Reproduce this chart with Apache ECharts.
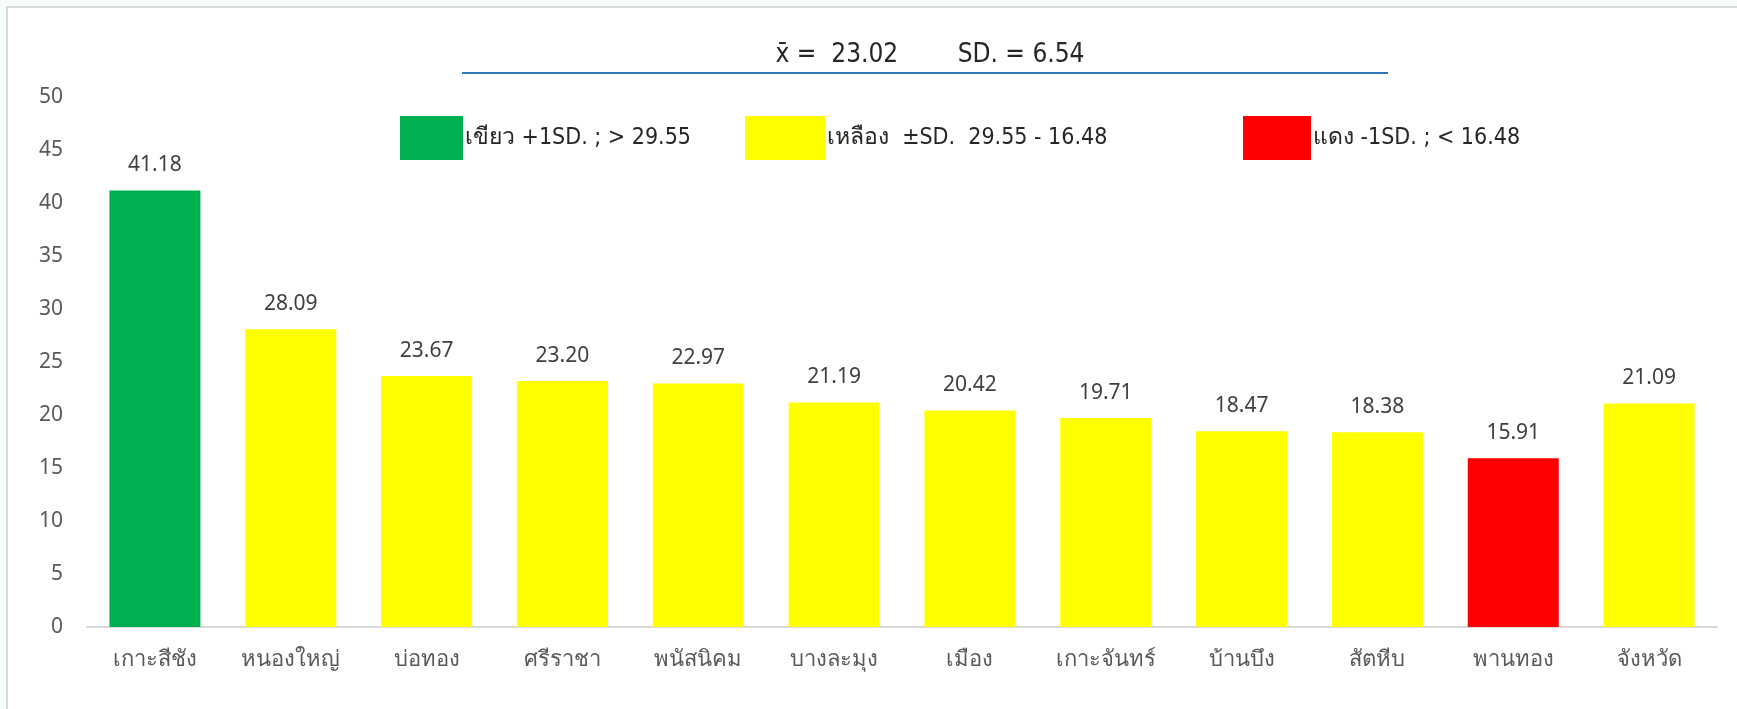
<!DOCTYPE html>
<html>
<head>
<meta charset="utf-8">
<title>chart</title>
<script src="https://cdn.jsdelivr.net/npm/echarts@6/dist/echarts.min.js"></script>
<style>
  html, body { margin: 0; padding: 0; background: #f7fcfc; }
  #chart { width: 1737px; height: 709px; }
</style>
</head>
<body>
<div id="chart"></div>
<script>
// อำเภอ
var categories = ["เกาะสีชัง", "หนองใหญ่", "บ่อทอง", "ศรีราชา", "พนัสนิคม", "บางละมุง", "เมือง", "เกาะจันทร์", "บ้านบึง", "สัตหีบ", "พานทอง", "จังหวัด"];
var values = [41.18, 28.09, 23.67, 23.20, 22.97, 21.19, 20.42, 19.71, 18.47, 18.38, 15.91, 21.09];
var yTicks = [0, 5, 10, 15, 20, 25, 30, 35, 40, 45, 50];
var upper = 29.55, lower = 16.48;
var legendNames = ["เขียว +1SD. ; > 29.55", "เหลือง  ±SD.  29.55 - 16.48", "แดง -1SD. ; < 16.48"];
var legendColors = ["#00b050", "#ffff00", "#ff0000"];
var titleText = "x̄ =  23.02        SD. = 6.54";

var narrow = "'DejaVu Sans Condensed', 'Liberation Sans Narrow', sans-serif";
var base = "'Noto Sans', 'Open Sans', sans-serif";

// สีแท่งตามเกณฑ์ ±SD
function barColor(v) {
  if (v > upper) return legendColors[0];
  if (v < lower) return legendColors[2];
  return legendColors[1];
}

var chart = echarts.init(document.getElementById("chart"));

var legendLeft = [400, 745, 1243];
var legendBoxW = [63, 80, 68];

var option = {
  animation: false,
  backgroundColor: "transparent",
  title: {
    text: titleText,
    left: 925,
    textAlign: "center",
    top: 37,
    textStyle: { fontFamily: narrow, fontSize: 26, fontWeight: "normal", color: "#262626" }
  },
  legend: legendNames.map(function (n, i) {
    return {
      data: [{ name: n, icon: "rect", itemStyle: { color: legendColors[i] } }],
      left: legendLeft[i],
      top: 116,
      padding: 0,
      itemWidth: legendBoxW[i],
      itemHeight: 44,
      itemGap: 0,
      selectedMode: false,
      textStyle: { fontFamily: narrow, fontSize: 23, color: "#262626", padding: [0, 0, 0, -3] }
    };
  }),
  graphic: [
    {
      type: "rect", z: -10, silent: true,
      shape: { x: 7, y: 7, width: 1760, height: 740 },
      style: { fill: "#ffffff", stroke: "#d6dcdc", lineWidth: 2 }
    },
    {
      type: "line", silent: true,
      shape: { x1: 462, y1: 73, x2: 1388, y2: 73 },
      style: { stroke: "#2e75b6", lineWidth: 2 }
    }
  ],
  grid: { left: 87, right: 20, top: 97, bottom: 82 },
  xAxis: {
    type: "category",
    data: categories,
    axisLine: { lineStyle: { color: "#d9d9d9", width: 2 } },
    axisTick: { show: false },
    axisLabel: { fontFamily: base, fontSize: 22, color: "#595959", margin: 22, interval: 0 }
  },
  yAxis: {
    type: "value",
    min: yTicks[0],
    max: yTicks[yTicks.length - 1],
    interval: yTicks[1] - yTicks[0],
    axisLine: { show: false },
    axisTick: { show: false },
    splitLine: { show: false },
    axisLabel: { fontFamily: base, fontSize: 21, color: "#595959", margin: 24 }
  },
  series: [
    {
      type: "bar",
      barCategoryGap: "33%",
      data: values.map(function (v) {
        return { value: v, itemStyle: { color: barColor(v) } };
      }),
      label: {
        show: true,
        position: "top",
        distance: 15,
        fontFamily: base,
        fontSize: 21,
        color: "#404040",
        formatter: function (p) { return p.value.toFixed(2); }
      }
    }
  ].concat(legendNames.map(function (n, i) {
    return { name: n, type: "bar", data: [], barGap: "-100%", itemStyle: { color: legendColors[i] } };
  }))
};

chart.setOption(option);
</script>
</body>
</html>
